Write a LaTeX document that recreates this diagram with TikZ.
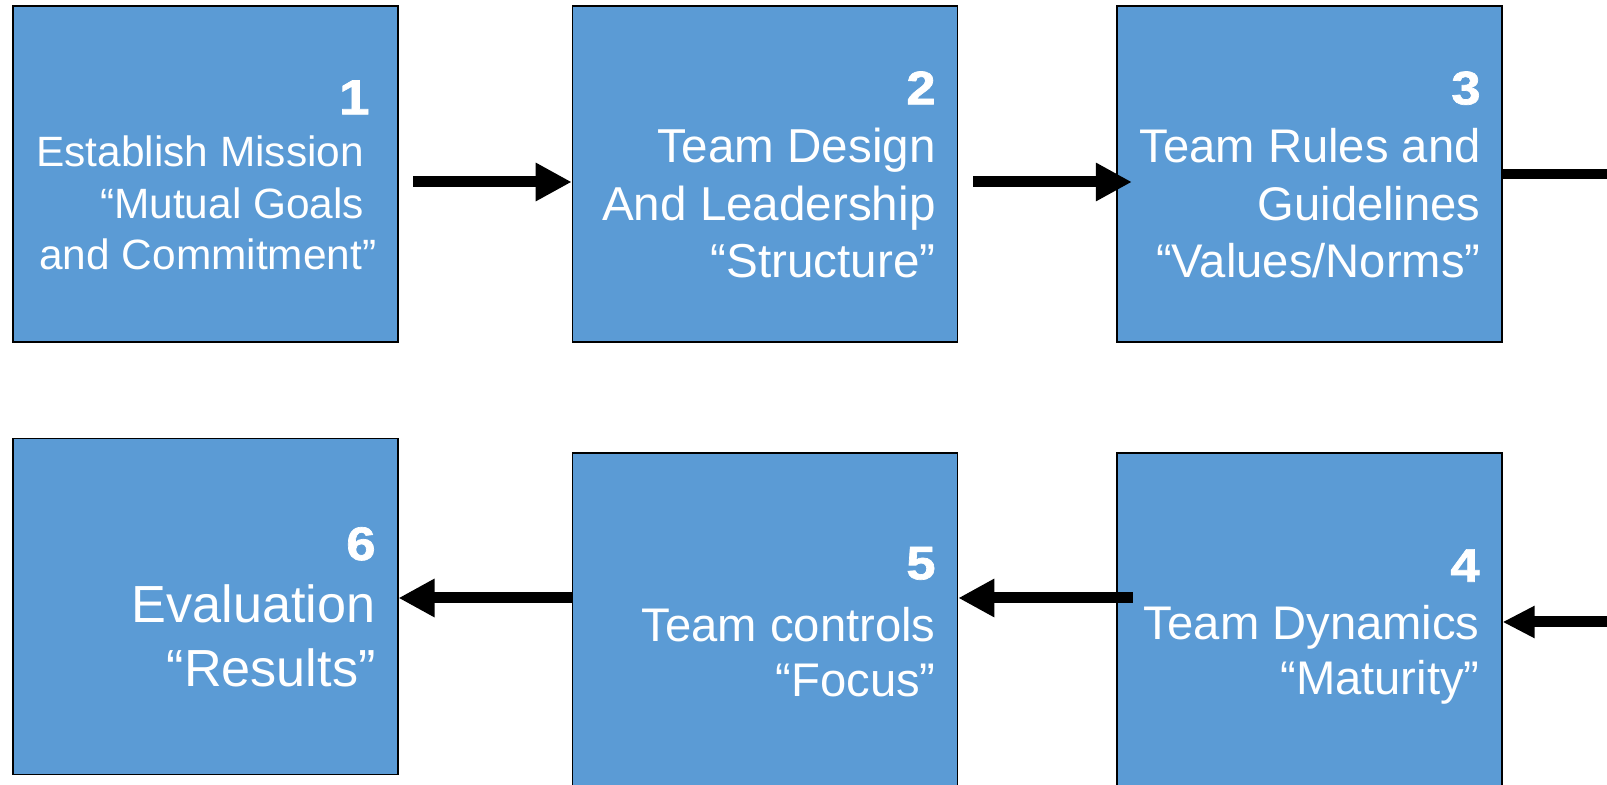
\documentclass[tikz,border=0pt]{standalone}
\usepackage{fontspec}
\setmainfont{Liberation Sans}
\newfontfamily\numfont[FakeBold=1.5,FakeStretch=1.12]{Liberation Sans Bold}
\usetikzlibrary{arrows.meta}
\definecolor{boxblue}{HTML}{5B9BD5}
\begin{document}
\begin{tikzpicture}[x=0.5pt,y=-0.5pt,
  box/.style={draw=black,line width=0.8pt,fill=boxblue,rectangle,
    minimum width=192.5pt,minimum height=168pt,inner sep=0pt},
  num/.style={text=white,font=\numfont\fontsize{23.5}{28}\selectfont,
    anchor=base east,inner sep=0pt},
  lbl/.style={text=white,align=right,anchor=base east,inner sep=0pt},
  arr/.style={line width=5.5pt,-{Triangle[length=18pt,width=18pt]}},
  arrsmall/.style={line width=5.5pt,-{Triangle[length=16pt,width=15pt]}},
  plainline/.style={line width=5pt}]
\useasboundingbox (0,0) rectangle (1607,785);
\clip (0,0) rectangle (1607,785);

% boxes
\node[box] (b1) at (205.2,174) {};
\node[box] (b2) at (765,174) {};
\node[box] (b3) at (1309.2,174) {};
\node[box] (b6) at (205.2,606.35) {};
\node[box] (b5) at (765,621.2) {};
\node[box] (b4) at (1309.2,621.2) {};

% numbers
\node[num,font=\numfont\fontsize{24.5}{28}\selectfont] (n1) at (370,114.3) {1};
\node[num] (n2) at (936,104.3) {2};
\node[num] (n3) at (1481,104.3) {3};
\node[num] (n4) at (1480,581.7) {4};
\node[num] (n5) at (936,579.3) {5};
\node[num] (n6) at (376,560) {6};

% labels (anchored at the baseline of the last line)
\node[lbl,font=\fontsize{21.2}{25.85}\selectfont] (t1) at (376.7,270)
  {Establish Mission\kern.29em\\“Mutual Goals\kern.29em\\and Commitment”};
\node[lbl,font=\fontsize{23.8}{28.75}\selectfont] (t2) at (936,278)
  {Team Design\\And Leadership\\“Structure”};
\node[lbl,font=\fontsize{23.6}{28.75}\selectfont] (t3) at (1481,278)
  {Team Rules and\\Guidelines\\“Values/Norms”};
\node[lbl,font=\fontsize{23.6}{27.6}\selectfont] (t4) at (1480,695)
  {Team Dynamics\\“Maturity”};
\node[lbl,font=\fontsize{23.6}{27.8}\selectfont] (t5) at (936,696.7)
  {Team controls\\“Focus”};
\node[lbl,font=\fontsize{26.1}{32.2}\selectfont] (t6) at (376,686.7)
  {Evaluation\\“Results”};

% connectors
\coordinate (s12) at (413,182);
\coordinate (s23) at (973,182);
\coordinate (r3) at (1607,174);
\coordinate (r4) at (1607,622);
\coordinate (s45) at (1132.7,598);
\coordinate (s56) at (572.3,598);

\draw[arr] (s12) -- (s12 -| b2.west);
\draw[arr] (s23) -- ([xshift=8pt]s23 -| b3.west);
\draw[plainline] (b3.east) -- (r3);
\draw[arrsmall] (r4) -- (r4 -| b4.east);
\draw[arr] (s45) -- (s45 -| b5.east);
\draw[arr] (s56 -| b5.west) -- (s56 -| b6.east);
\end{tikzpicture}
\end{document}
